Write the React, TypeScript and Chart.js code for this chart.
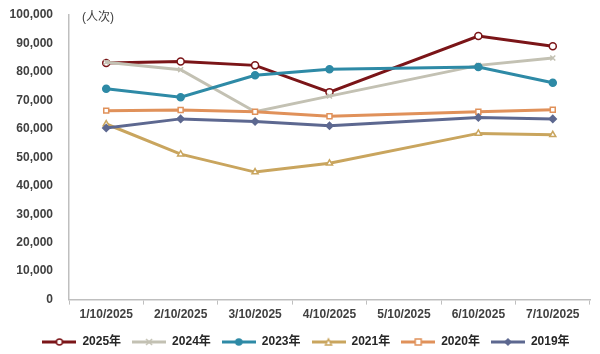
import React, { useEffect, useRef } from "react";
import { Chart, registerables } from "chart.js";

Chart.register(...registerables);

const categories = ["1/10/2025", "2/10/2025", "3/10/2025", "4/10/2025", "5/10/2025", "6/10/2025", "7/10/2025"];
const seriesNames = ["2025年", "2024年", "2023年", "2021年", "2020年", "2019年"];
const s2025 = [83100, 83700, 82300, 72900, null, 92600, 89000];
const s2024 = [83400, 80800, 66000, 71500, null, 82300, 84900];
const s2023 = [74100, 71100, 78800, 80900, null, 81700, 76200];
const s2021 = [61700, 51100, 44800, 47900, null, 58400, 57900];
const s2020 = [66400, 66600, 66000, 64400, null, 66000, 66700];
const s2019 = [60300, 63500, 62600, 61100, null, 64000, 63500];
const yTicks = [0, 10000, 20000, 30000, 40000, 50000, 60000, 70000, 80000, 90000, 100000];
const unitLabel = "(人次)";

const colors = ["#7B1518", "#C3C1B3", "#2E8AA6", "#C9A55E", "#E0915A", "#5D6890"];
const styles: any[] = ["circle", "crossRot", "circle", "triangle", "rect", "rectRot"];
const hollow = [true, false, false, true, true, false];

const FONT = "'Liberation Sans', Arial, 'Noto Sans CJK SC', sans-serif";

function legendImage(color: string, style: string, isHollow: boolean) {
  const c = document.createElement("canvas");
  c.width = 34;
  c.height = 10;
  const ctx = c.getContext("2d")!;
  ctx.strokeStyle = color;
  ctx.lineWidth = 3;
  ctx.beginPath();
  ctx.moveTo(0, 5);
  ctx.lineTo(34, 5);
  ctx.stroke();
  ctx.lineWidth = 1.5;
  ctx.fillStyle = isHollow ? "#ffffff" : color;
  const x = 17, y = 5, r = 3;
  ctx.beginPath();
  if (style === "circle") {
    ctx.arc(x, y, r, 0, Math.PI * 2);
  } else if (style === "rect") {
    ctx.rect(x - r, y - r, 2 * r, 2 * r);
  } else if (style === "triangle") {
    ctx.moveTo(x, y - r);
    ctx.lineTo(x + r, y + r);
    ctx.lineTo(x - r, y + r);
    ctx.closePath();
  } else if (style === "rectRot") {
    ctx.moveTo(x, y - r);
    ctx.lineTo(x + r, y);
    ctx.lineTo(x, y + r);
    ctx.lineTo(x - r, y);
    ctx.closePath();
  }
  if (style !== "crossRot") {
    ctx.fill();
    ctx.stroke();
  } else {
    ctx.moveTo(x - r, y - r);
    ctx.lineTo(x + r, y + r);
    ctx.moveTo(x + r, y - r);
    ctx.lineTo(x - r, y + r);
    ctx.stroke();
  }
  return c;
}

const unitPlugin = {
  id: "unitLabel",
  afterLayout(chart: any) {
    if (chart.legend) {
      chart.legend.left += 6;
      chart.legend.right += 6;
    }
  },
  afterDraw(chart: any) {
    const { ctx, chartArea } = chart;
    ctx.save();
    ctx.font = `12px ${FONT}`;
    ctx.fillStyle = "#404040";
    ctx.textBaseline = "middle";
    ctx.textAlign = "left";
    ctx.fillText(unitLabel, chartArea.left + 13, chartArea.top + 3);
    ctx.restore();
  },
};

export default function App() {
  const ref = useRef<HTMLCanvasElement>(null);
  useEffect(() => {
    document.body.style.margin = "0";
    const all = [s2025, s2024, s2023, s2021, s2020, s2019];
    const images = seriesNames.map((_, i) => legendImage(colors[i], styles[i], hollow[i]));
    const chart = new Chart(ref.current!, {
      type: "line",
      data: {
        labels: categories,
        datasets: all.map((d, i) => ({
          label: seriesNames[i],
          data: d,
          borderColor: colors[i],
          backgroundColor: hollow[i] ? "#ffffff" : colors[i],
          pointBackgroundColor: hollow[i] ? "#ffffff" : colors[i],
          pointBorderColor: colors[i],
          pointStyle: styles[i],
          pointRadius: 3.5,
          pointBorderWidth: 1.5,
          borderWidth: 3,
          spanGaps: true,
          tension: 0,
          order: 10 - i,
        })),
      },
      options: {
        animation: false,
        responsive: false,
        layout: { padding: { top: 15, left: 10, right: 10, bottom: -4 } },
        plugins: {
          tooltip: { enabled: false },
          legend: {
            position: "bottom",
            labels: {
              usePointStyle: true,
              pointStyleWidth: 34,
              padding: 11,
              color: "#262626",
              font: { family: FONT, size: 12, weight: "bold" },
              generateLabels: (ch: any) =>
                ch.data.datasets.map((ds: any, i: number) => ({
                  text: ds.label,
                  pointStyle: images[i],
                  fillStyle: colors[i],
                  strokeStyle: colors[i],
                  lineWidth: 0,
                  datasetIndex: i,
                  hidden: false,
                  fontColor: "#262626",
                })),
            },
          },
        },
        scales: {
          x: {
            type: "category",
            offset: true,
            border: { display: true, color: "#BFBFBF", width: 1.5 },
            grid: { display: true, drawOnChartArea: false, drawTicks: true, tickLength: 5, offset: true, color: "#BFBFBF" },
            ticks: { color: "#404040", font: { family: FONT, size: 12, weight: "bold" }, maxRotation: 0, padding: 3 },
          },
          y: {
            min: 0,
            max: 100000,
            afterBuildTicks: (axis: any) => {
              axis.ticks = yTicks.map((v) => ({ value: v }));
            },
            afterFit: (axis: any) => {
              axis.width = 59;
              axis.paddingTop = 0;
              axis.paddingBottom = 0;
            },
            border: { display: true, color: "#BFBFBF", width: 1.5 },
            grid: { display: false, drawTicks: false },
            ticks: {
              color: "#404040",
              padding: 16,
              font: { family: FONT, size: 12, weight: "bold" },
              callback: (v: any) => Number(v).toLocaleString("en-US"),
            },
          },
        },
      },
      plugins: [unitPlugin],
    });
    return () => chart.destroy();
  }, []);
  return (
    <div style={{ width: 600, height: 354 }}>
      <canvas ref={ref} width={600} height={354} style={{ width: 600, height: 354, display: "block" }} />
    </div>
  );
}
